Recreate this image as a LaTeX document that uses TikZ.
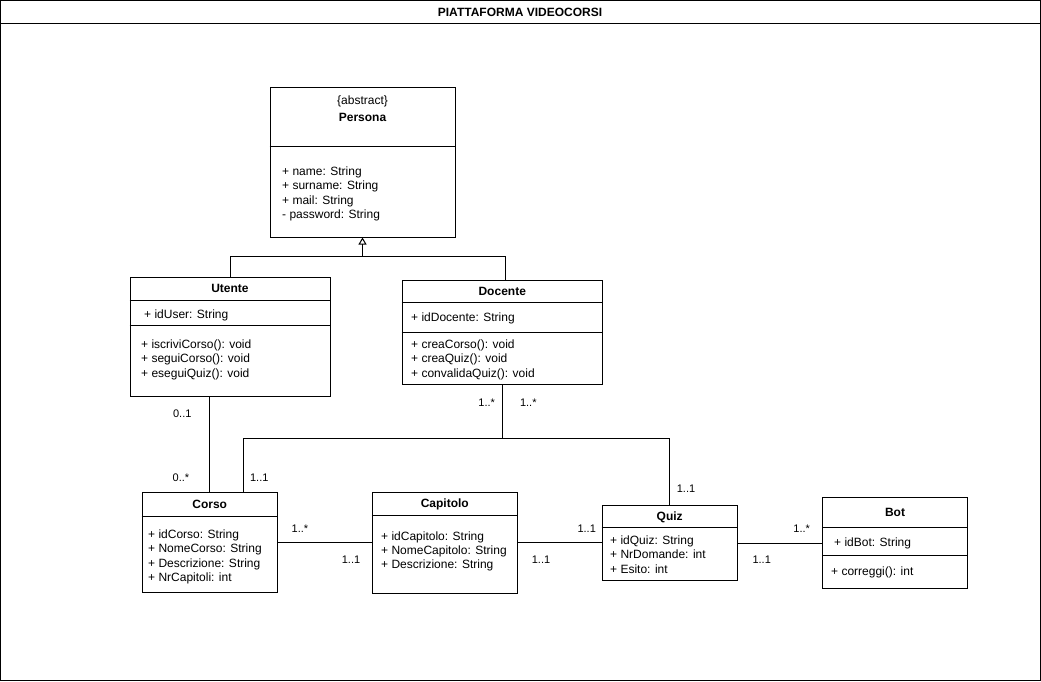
\documentclass[tikz,border=0pt]{standalone}
\usepackage{fontspec}
\setmainfont{Liberation Sans}
\usetikzlibrary{arrows.meta}

\tikzset{
    cls/.style={draw, line width=1pt, inner sep=0pt},
    attr/.style={anchor=west, inner sep=0pt, text height=10.5pt, text depth=1.5pt, font=\fontsize{12}{14}\selectfont},
    hdr/.style={inner sep=0pt, text height=10pt, text depth=2pt, font=\fontsize{12}{14}\selectfont\bfseries},
    note/.style={inner sep=0pt, text height=10pt, text depth=2pt, font=\fontsize{12}{14}\selectfont},
    mult/.style={inner sep=0pt, text height=8pt, text depth=2pt, font=\fontsize{11}{13}\selectfont},
    link/.style={line width=1pt}
}

\begin{document}
\begin{tikzpicture}[x=1pt, y=-1pt]
        \useasboundingbox (0,0) rectangle (1041,681);
        \draw[link](0.5, 0.5) rectangle (1040, 680);
        \draw[link](0.5, 23) to (1040, 23);
        \node[hdr] (title) at(520, 12){PIATTAFORMA VIDEOCORSI};

        % classi
        \node[cls, minimum width=185pt, minimum height=150pt] (persona) at(362.5, 162){};
            \draw[link](persona.west |- 0, 146.7) to (persona.east |- 0, 146.7);
        \node[cls, minimum width=200pt, minimum height=119pt] (utente) at(230, 336.5){};
            \draw[link](utente.west |- 0, 300) to (utente.east |- 0, 300);
            \draw[link](utente.west |- 0, 325) to (utente.east |- 0, 325);
        \node[cls, minimum width=200.5pt, minimum height=104pt] (docente) at(502.25, 332){};
            \draw[link](docente.west |- 0, 302.7) to (docente.east |- 0, 302.7);
            \draw[link](docente.west |- 0, 332.3) to (docente.east |- 0, 332.3);
        \node[cls, minimum width=135pt, minimum height=99.5pt] (corso) at(209.7, 542.7){};
            \draw[link](corso.west |- 0, 516) to (corso.east |- 0, 516);
        \node[cls, minimum width=145pt, minimum height=101pt] (capitolo) at(444.8, 542.8){};
            \draw[link](capitolo.west |- 0, 515) to (capitolo.east |- 0, 515);
        \node[cls, minimum width=135pt, minimum height=75.4pt] (quiz) at(669.7, 543){};
            \draw[link](quiz.west |- 0, 527.3) to (quiz.east |- 0, 527.3);
        \node[cls, minimum width=144.6pt, minimum height=90.7pt] (bot) at(895, 542.7){};
            \draw[link](bot.west |- 0, 527.3) to (bot.east |- 0, 527.3);
            \draw[link](bot.west |- 0, 555.7) to (bot.east |- 0, 555.7);

        % testi
        \node[note] (personaAbs) at(362.5, 100){\{abstract\}};
        \node[hdr] (personaName) at(362.5, 117){Persona};
        \node[attr] (personaA1) at(282, 170.5){+ name: String};
        \node[attr] (personaA2) at(282, 185){+ surname: String};
        \node[attr] (personaA3) at(282, 199.5){+ mail: String};
        \node[attr] (personaA4) at(282, 214){- password: String};

        \node[hdr] (utenteName) at(230, 288){Utente};
        \node[attr] (utenteA1) at(144, 313.7){+ idUser: String};
        \node[attr] (utenteM1) at(141, 343.7){+ iscriviCorso(): void};
        \node[attr] (utenteM2) at(141, 357.7){+ seguiCorso(): void};
        \node[attr] (utenteM3) at(141, 372.7){+ eseguiQuiz(): void};

        \node[hdr] (docenteName) at(502.25, 291){Docente};
        \node[attr] (docenteA1) at(411, 316.7){+ idDocente: String};
        \node[attr] (docenteM1) at(411, 343.7){+ creaCorso(): void};
        \node[attr] (docenteM2) at(411, 357.7){+ creaQuiz(): void};
        \node[attr] (docenteM3) at(411, 372.7){+ convalidaQuiz(): void};

        \node[hdr] (corsoName) at(209.7, 504){Corso};
        \node[attr] (corsoA1) at(148, 534.3){+ idCorso: String};
        \node[attr] (corsoA2) at(148, 548){+ NomeCorso: String};
        \node[attr] (corsoA3) at(148, 562.7){+ Descrizione: String};
        \node[attr] (corsoA4) at(148, 576.7){+ NrCapitoli: int};

        \node[hdr] (capitoloName) at(444.8, 503.3){Capitolo};
        \node[attr] (capitoloA1) at(381, 535.7){+ idCapitolo: String};
        \node[attr] (capitoloA2) at(381, 550){+ NomeCapitolo: String};
        \node[attr] (capitoloA3) at(381, 564.3){+ Descrizione: String};

        \node[hdr] (quizName) at(669.7, 516){Quiz};
        \node[attr] (quizA1) at(610, 540.3){+ idQuiz: String};
        \node[attr] (quizA2) at(610, 554.3){+ NrDomande: int};
        \node[attr] (quizA3) at(610, 568.7){+ Esito: int};

        \node[hdr] (botName) at(895, 512){Bot};
        \node[attr] (botA1) at(834, 541.7){+ idBot: String};
        \node[attr] (botM1) at(831, 571.3){+ correggi(): int};

        % ereditarieta
        \coordinate (gen) at(362.5, 256.5);
        \draw[link](utente.north) |- (gen) -| (docente.north -| 505, 0);
        \draw[link, -{Triangle[open, width=8pt, length=7pt]}](gen) to (persona.south);

        % associazioni
        \draw[link](utente.south -| corso.north) to (corso.north);
        \coordinate (dj) at(502.3, 438.3);
        \coordinate (cj) at(243.7, 438.3);
        \coordinate (qj) at(669.7, 438.3);
        \draw[link](docente.south -| dj) to (dj);
        \draw[link](corso.north -| cj) to (cj) to (qj) to (quiz.north);
        \draw[link](corso.east) to (corso.east -| capitolo.west);
        \draw[link](capitolo.east) to (capitolo.east -| quiz.west);
        \draw[link](quiz.east) to (quiz.east -| bot.west);

        % molteplicita
        \node[mult] (mUtCo) at(182.3, 414){0..1};
        \node[mult] (mCoUt) at(181, 478.3){0..*};
        \node[mult] (mDoCo) at(486.7, 403){1..*};
        \node[mult] (mDoQu) at(528.3, 403){1..*};
        \node[mult] (mCoDo) at(259.3, 478.3){1..1};
        \node[mult] (mQuDo) at(686, 489.7){1..1};
        \node[mult] (mCoCa) at(300, 529.5){1..*};
        \node[mult] (mCaCo) at(351, 560){1..1};
        \node[mult] (mCaQu) at(541, 560){1..1};
        \node[mult] (mQuCa) at(586.7, 529.5){1..1};
        \node[mult] (mQuBo) at(761.7, 560){1..1};
        \node[mult] (mBoQu) at(801.7, 529.5){1..*};
\end{tikzpicture}
\end{document}
